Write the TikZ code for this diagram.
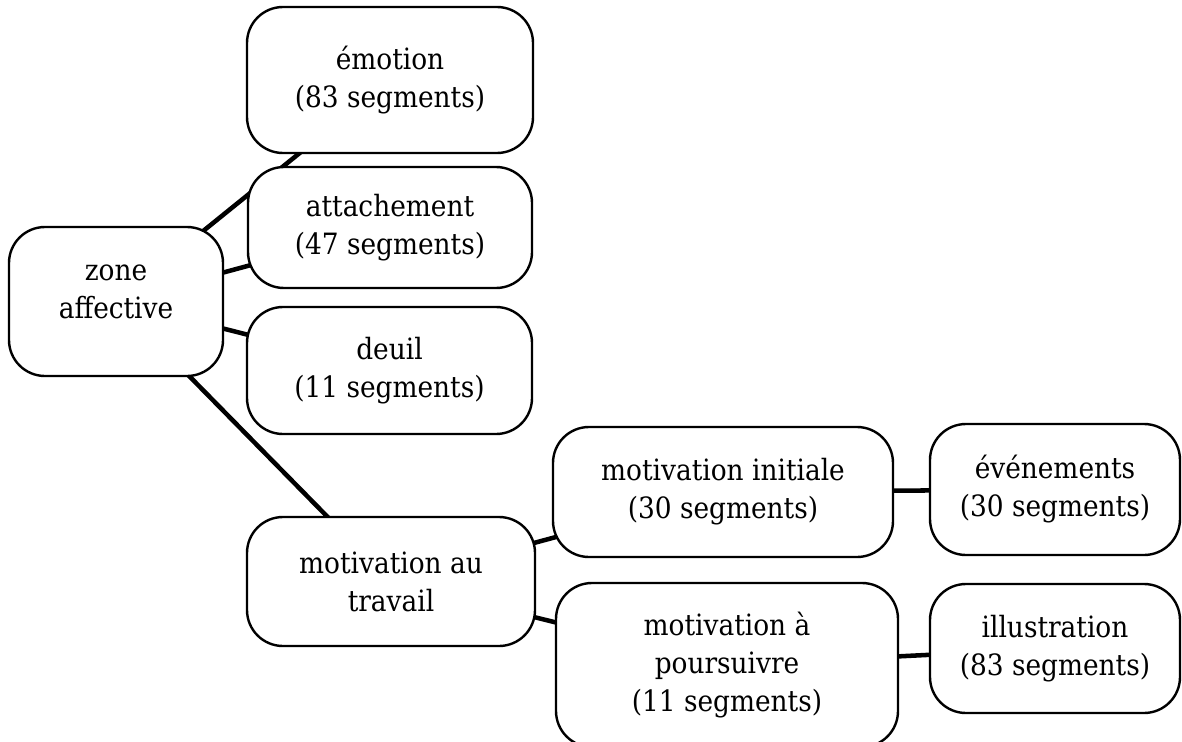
\documentclass[tikz,border=0pt]{standalone}
\usepackage{fontspec}
\setmainfont{DejaVu Serif Condensed}
\usetikzlibrary{backgrounds}
\begin{document}
\begin{tikzpicture}[x=0.75pt, y=-0.75pt,
  box/.style={draw=black, line width=1.8pt, fill=white, rounded corners=27pt,
    align=center, inner sep=0pt, font=\fontsize{22}{28.5}\selectfont},
  caption/.style={align=center, inner sep=0pt, font=\fontsize{22}{28.5}\selectfont},
  link/.style={draw=black, line width=3.4pt}]
\useasboundingbox (0,0) rectangle (1182,742);
\clip (0,0) rectangle (1182,742);

% root (its text sits a little above the middle of the box)
\node[box, minimum width=160.5pt, minimum height=111.75pt] (zone) at (116,301.5) {};
\node[caption] (zonetext) at (116,292) {zone\\affective};

% first-level categories
\node[box, minimum width=214.5pt, minimum height=109.5pt]  (emo)   at (390,80)    {émotion\\(83 segments)};
\node[box, minimum width=213pt,   minimum height=90.75pt]  (att)   at (390,227.5) {attachement\\(47 segments)};
\node[box, minimum width=213.75pt,minimum height=95.25pt]  (deuil) at (389.5,370.5) {deuil\\(11 segments)};
\node[box, minimum width=216pt,   minimum height=96.75pt]  (trav)  at (391,581.5) {motivation au\\travail};

% second and third levels
\node[box, minimum width=255pt,   minimum height=97.5pt]   (init)  at (723,492)   {motivation initiale\\(30 segments)};
\node[box, minimum width=187.5pt, minimum height=98.25pt]  (evt)   at (1055,489.5) {événements\\(30 segments)};
\node[box, minimum width=256.5pt, minimum height=123pt]    (pours) at (727,665)   {motivation à\\poursuivre\\(11 segments)};
\node[box, minimum width=187.5pt, minimum height=96.75pt]  (illus) at (1055,648.5) {illustration\\(83 segments)};

% connectors run centre to centre, hidden under the filled boxes
\begin{pgfonlayer}{background}
  \draw[link] (zone.center) -- (emo.center);
  \draw[link] (zone.center) -- (att.center);
  \draw[link] (zone.center) -- (deuil.center);
  \draw[link] (zone.center) -- (trav.center);
  \draw[link] (trav.center) -- (init.center);
  \draw[link] (trav.center) -- (pours.center);
  \draw[link] (init.center) -- (evt.center);
  \draw[link] (pours.center) -- (illus.center);
\end{pgfonlayer}
\end{tikzpicture}
\end{document}
